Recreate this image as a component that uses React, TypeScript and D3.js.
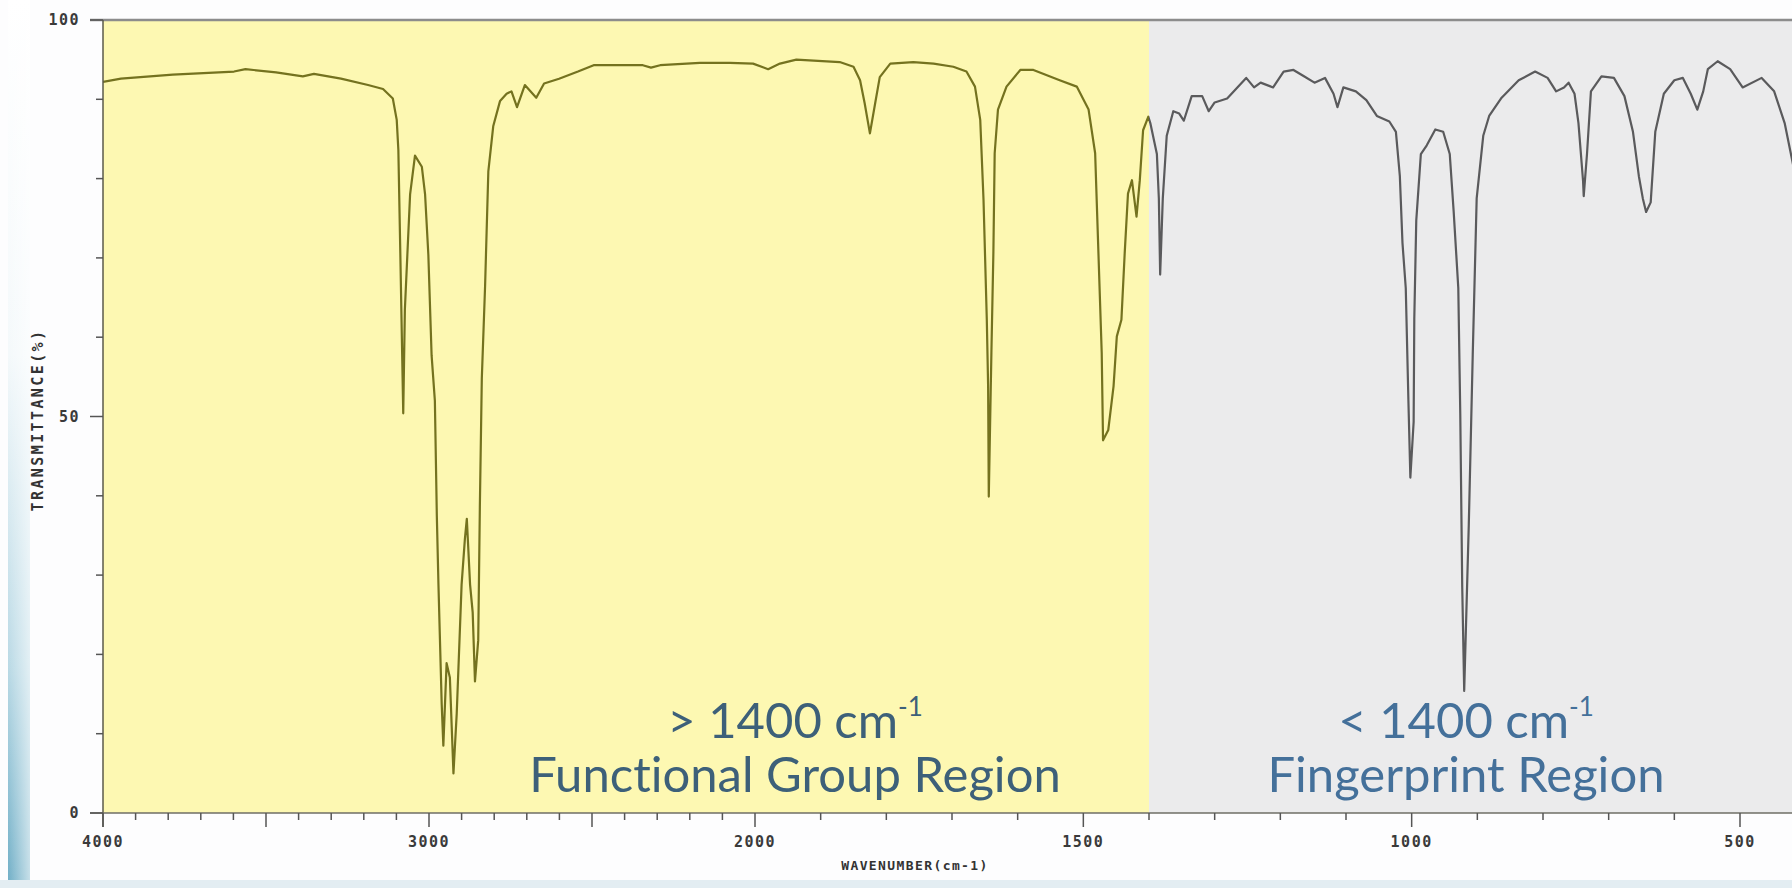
import React from "react";
import * as d3 from "d3";

// ---- data ----
const wavenumbers = [
  4000, 3945, 3786, 3598, 3563, 3469, 3387, 3353, 3270, 3187, 3141, 3111, 3099, 3094, 3088,
  3079, 3074, 3058, 3043, 3022, 3012, 3002, 2992, 2982, 2976, 2971, 2961, 2956, 2946, 2936,
  2925, 2915, 2900, 2890, 2884, 2874, 2866, 2859, 2849, 2844, 2838, 2828, 2818, 2803, 2782,
  2762, 2747, 2730, 2706, 2671, 2647, 2601, 2543, 2495, 2344, 2319, 2291, 2169, 2077, 2006,
  1980, 1962, 1937, 1871, 1850, 1840, 1833, 1825, 1817, 1810, 1794, 1759, 1728, 1698, 1678,
  1665, 1657, 1652, 1647, 1645, 1644, 1640, 1637, 1635, 1630, 1617, 1596, 1576, 1536, 1510,
  1492, 1482, 1477, 1472, 1470, 1462, 1454, 1449, 1442, 1437, 1432, 1426, 1419, 1414, 1409,
  1401, 1398, 1388, 1385, 1383, 1379, 1373, 1363, 1354, 1347, 1335, 1319, 1309, 1300, 1281,
  1252, 1240, 1230, 1211, 1195, 1180, 1164, 1148, 1132, 1119, 1113, 1104, 1085, 1069, 1053,
  1034, 1024, 1018, 1014, 1009, 1005, 1002, 997, 996, 993, 986, 977, 964, 952, 942,
  936, 929, 926, 923, 920, 913, 907, 901, 891, 882, 863, 837, 812, 793, 780,
  768, 761, 752, 746, 739, 738, 733, 727, 711, 692, 676, 663, 654, 648, 643,
  636, 629, 616, 600, 587, 575, 565, 556, 549, 534, 515, 496, 467, 448, 432,
  421, 410,
];
const transmittance = [
  92.2, 92.6, 93.1, 93.5, 93.8, 93.4, 92.9, 93.2, 92.6, 91.8, 91.3, 90.1, 87.4, 83.6, 70.6,
  50.4, 63.5, 78.0, 82.9, 81.5, 78.0, 70.4, 57.7, 52.0, 37.5, 28.8, 13.7, 8.5, 18.9, 17.1,
  5.0, 12.5, 28.8, 34.5, 37.1, 28.8, 25.3, 16.6, 21.8, 38.6, 54.8, 66.4, 80.9, 86.6, 89.8,
  90.7, 91.0, 89.0, 91.8, 90.2, 92.0, 92.6, 93.5, 94.3, 94.3, 94.0, 94.3, 94.6, 94.6, 94.5,
  93.8, 94.5, 95.0, 94.7, 94.1, 92.4, 89.5, 85.7, 89.5, 92.8, 94.5, 94.7, 94.5, 94.1, 93.5,
  91.6, 87.4, 77.3, 62.2, 53.8, 39.9, 58.0, 70.6, 83.2, 88.7, 91.6, 93.7, 93.7, 92.4, 91.6,
  88.7, 83.2, 70.6, 58.0, 47.0, 48.3, 53.8, 60.1, 62.2, 70.6, 78.1, 79.8, 75.2, 79.8, 86.1,
  87.8, 87.0, 83.1, 77.5, 67.9, 77.5, 85.4, 88.5, 88.2, 87.3, 90.4, 90.4, 88.5, 89.6, 90.1,
  92.7, 91.5, 92.1, 91.5, 93.5, 93.7, 92.9, 92.1, 92.7, 90.7, 89.0, 91.5, 91.0, 89.9, 87.9,
  87.2, 85.9, 80.3, 71.9, 66.2, 52.1, 42.3, 49.3, 62.3, 74.7, 83.1, 84.2, 86.2, 85.9, 83.1,
  75.8, 66.2, 50.4, 28.5, 15.4, 36.4, 57.8, 77.5, 85.4, 87.9, 90.2, 92.4, 93.5, 92.7, 91.0,
  91.5, 92.1, 90.7, 87.0, 79.7, 77.8, 83.1, 91.0, 92.9, 92.7, 90.4, 85.9, 80.3, 77.5, 75.8,
  77.0, 85.9, 90.7, 92.4, 92.7, 90.7, 88.7, 91.0, 93.8, 94.8, 93.8, 91.5, 92.7, 91.0, 87.0,
  82.5, 78.0,
];

const xMajorTicks = [4000, 3500, 3000, 2500, 2000, 1500, 1000, 500];
const xMinorTicks = d3.range(4000, 450, -100).filter((v) => !xMajorTicks.includes(v));
const xTickLabels = [
  { value: 4000, label: "4000" },
  { value: 3000, label: "3000" },
  { value: 2000, label: "2000" },
  { value: 1500, label: "1500" },
  { value: 1000, label: "1000" },
  { value: 500, label: "500" },
];
const yMajorTicks = [0, 50, 100];
const yMinorTicks = [10, 20, 30, 40, 60, 70, 80, 90];
const regionSplit = 1400;
const regionLabels = [
  { side: "left", line1: "> 1400 cm", line2: "Functional Group Region" },
  { side: "right", line1: "< 1400 cm", line2: "Fingerprint Region" },
];

const W = 1792;
const H = 888;

export default function App() {
  React.useEffect(() => {
    document.body.style.margin = "0";
    document.body.style.overflow = "hidden";
  }, []);

  const x = d3.scaleLinear().domain([4000, 2000, 500]).range([103, 755, 1740]);
  const y = d3.scaleLinear().domain([0, 100]).range([813, 20]);
  const pts: [number, number][] = wavenumbers.map((w, i) => [w, transmittance[i]]);
  const line = d3
    .line<[number, number]>()
    .x((d) => x(d[0]))
    .y((d) => y(d[1]));
  const path = line(pts) || "";

  const x0 = x(4000);
  const xs = x(regionSplit);
  const yTop = y(100);
  const yBot = y(0);
  const monoFont = "'DejaVu Sans Mono', monospace";
  const labelFont = "Lato, 'Open Sans', sans-serif";

  return (
    <svg
      width={W}
      height={H}
      style={{ position: "absolute", left: 0, top: 0, display: "block" }}
    >
      <defs>
        <linearGradient id="leftStrip" x1="0" y1="0" x2="0" y2="1">
          <stop offset="0%" stopColor="#ffffff" />
          <stop offset="40%" stopColor="#f4f9fb" />
          <stop offset="75%" stopColor="#b9d9e5" />
          <stop offset="100%" stopColor="#6faec6" />
        </linearGradient>
        <linearGradient id="stripFade" x1="0" y1="0" x2="1" y2="0">
          <stop offset="0%" stopColor="#ffffff" stopOpacity="0" />
          <stop offset="100%" stopColor="#ffffff" stopOpacity="0.6" />
        </linearGradient>
        <clipPath id="clipLeft">
          <rect x={x0} y={0} width={xs - x0} height={yBot} />
        </clipPath>
        <clipPath id="clipRight">
          <rect x={xs} y={0} width={W - xs} height={yBot} />
        </clipPath>
      </defs>

      <rect x={0} y={0} width={W} height={H} fill="#fdfdfe" />
      <rect x={8} y={0} width={22} height={H} fill="url(#leftStrip)" />
      <rect x={8} y={0} width={22} height={H} fill="url(#stripFade)" />
      <rect x={0} y={880} width={W} height={8} fill="#e3edf2" />

      {/* region backgrounds */}
      <rect x={x0} y={yTop} width={xs - x0} height={yBot - yTop} fill="#fdf8b2" />
      <rect x={xs} y={yTop} width={W - xs} height={yBot - yTop} fill="#ebebec" />

      {/* spectrum */}
      <path d={path} fill="none" stroke="#74721f" strokeWidth={2.2} clipPath="url(#clipLeft)" strokeLinejoin="round" />
      <path d={path} fill="none" stroke="#5a5a5c" strokeWidth={2.2} clipPath="url(#clipRight)" strokeLinejoin="round" />

      {/* frame */}
      <line x1={90} x2={W} y1={yTop} y2={yTop} stroke="#8c8c8c" strokeWidth={2.5} />
      <line x1={x0} x2={x0} y1={yTop} y2={yBot + 14} stroke="#5a5a4a" strokeWidth={1.5} />
      <line x1={90} x2={W} y1={yBot} y2={yBot} stroke="#6e6e66" strokeWidth={1.5} />

      {/* y ticks */}
      {yMajorTicks.map((t) => (
        <line key={"ym" + t} x1={90} x2={x0} y1={y(t)} y2={y(t)} stroke="#555" strokeWidth={1.5} />
      ))}
      {yMinorTicks.map((t) => (
        <line key={"yn" + t} x1={96} x2={x0} y1={y(t)} y2={y(t)} stroke="#555" strokeWidth={1.5} />
      ))}
      {yMajorTicks.map((t) => (
        <text
          key={"yl" + t}
          x={80}
          y={y(t)}
          dy="0.36em"
          textAnchor="end"
          fontFamily={monoFont}
          fontWeight="bold"
          fontSize={15}
          letterSpacing={1.5}
          fill="#3a3a3a"
        >
          {t}
        </text>
      ))}

      {/* x ticks */}
      {xMajorTicks.map((t) => (
        <line key={"xm" + t} x1={x(t)} x2={x(t)} y1={yBot} y2={yBot + 14} stroke="#555" strokeWidth={1.5} />
      ))}
      {xMinorTicks.map((t) => (
        <line key={"xn" + t} x1={x(t)} x2={x(t)} y1={yBot} y2={yBot + 7} stroke="#555" strokeWidth={1.5} />
      ))}
      {xTickLabels.map((t) => (
        <text
          key={"xl" + t.value}
          x={x(t.value)}
          y={842}
          dy="0.36em"
          textAnchor="middle"
          fontFamily={monoFont}
          fontWeight="bold"
          fontSize={15}
          letterSpacing={1.5}
          fill="#3a3a3a"
        >
          {t.label}
        </text>
      ))}

      {/* axis titles */}
      <text
        x={915}
        y={865}
        dy="0.36em"
        textAnchor="middle"
        fontFamily={monoFont}
        fontWeight="bold"
        fontSize={13}
        letterSpacing={1.4}
        fill="#333"
      >
        WAVENUMBER(cm-1)
      </text>
      <text
        transform={`translate(38,420) rotate(-90)`}
        dy="0.36em"
        textAnchor="middle"
        fontFamily={monoFont}
        fontWeight="bold"
        fontSize={15}
        letterSpacing={2.4}
        fill="#333"
      >
        TRANSMITTANCE(%)
      </text>

      {/* region labels */}
      {regionLabels.map((r) => {
        const cx = r.side === "left" ? 795 : 1466;
        const color = r.side === "left" ? "#3d6079" : "#44709a";
        return (
          <g
            key={r.side}
            fontFamily={labelFont}
            fill={color}
            style={{ fontVariantLigatures: "none", fontFeatureSettings: "'liga' 0" }}
          >
            <text x={cx} y={738} textAnchor="middle" fontSize={49}>
              {r.line1}
              <tspan fontSize={26} dy={-22}>
                -1
              </tspan>
            </text>
            <text x={cx} y={792} textAnchor="middle" fontSize={49}>
              {r.line2}
            </text>
          </g>
        );
      })}
    </svg>
  );
}
